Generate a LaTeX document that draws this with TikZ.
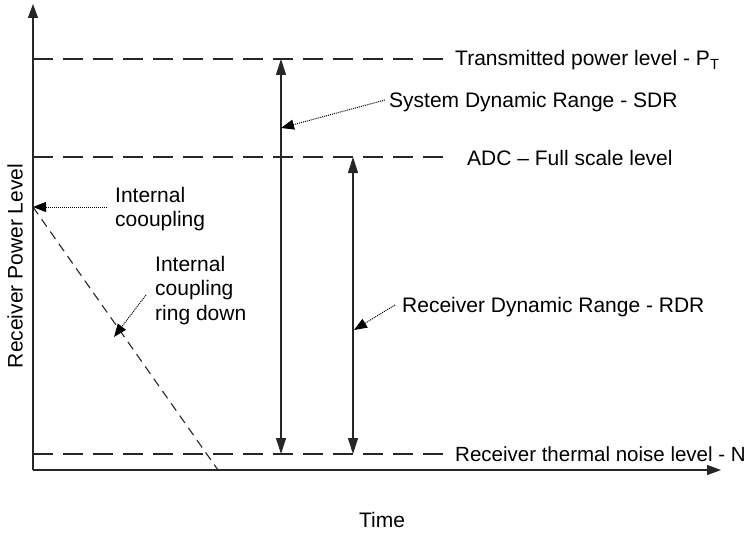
\documentclass[tikz,border=0pt]{standalone}
\usepackage{fontspec}
\setmainfont{Liberation Sans}
\usetikzlibrary{arrows.meta}
\begin{document}
\begin{tikzpicture}[x=1pt,y=-1pt,
  lbl/.style={font=\fontsize{21}{24.5}\selectfont, inner sep=0pt, text=black},
  axisline/.style={line width=1.3pt, draw=black!85, -{Triangle[length=14pt,width=10pt]}},
  levelline/.style={line width=1.1pt, draw=black!85, dash pattern=on 20pt off 10pt},
  rangearrow/.style={line width=1.1pt, draw=black!85, {Triangle[length=16pt,width=10pt]}-{Triangle[length=16pt,width=10pt]}},
  pointer/.style={line width=1pt, densely dotted, -{Triangle[length=13pt,width=10pt]}},
  ringline/.style={line width=1.1pt, draw=black!85, dash pattern=on 9pt off 6pt}]
\useasboundingbox (0,0) rectangle (751,532);

% axes
\coordinate (O) at (33,470);
\coordinate (ytop) at (33,4);
\coordinate (xend) at (721,470);
\draw[axisline] (O) -- (ytop);
\draw[axisline] (O) -- (xend);
\node[lbl, rotate=90] (ylab) at (15,266) {Receiver Power Level};
\node[lbl, anchor=base] (xlab) at (382,527) {Time};

% reference levels
\coordinate (pt0) at (33,59);
\coordinate (pt1) at (445,59);
\coordinate (adc0) at (33,157);
\coordinate (adc1) at (445,157);
\coordinate (n0) at (33,454);
\coordinate (n1) at (445,454);
\draw[levelline] (pt0) -- (pt1);
\draw[levelline] (adc0) -- (adc1);
\draw[levelline] (n0) -- (n1);
\node[lbl, anchor=base west] (ptlab) at (455,66) {Transmitted power level - P\textsubscript{T}};
\node[lbl, anchor=base west] (adclab) at (467,165) {ADC -- Full scale level};
\node[lbl, anchor=base west, font=\fontsize{20.5}{24.5}\selectfont] (nlab) at (455,461) {Receiver thermal noise level - N};

% dynamic ranges
\coordinate (sdrtop) at (281,59);
\coordinate (sdrbot) at (281,454);
\coordinate (rdrtop) at (353,157);
\coordinate (rdrbot) at (353,454);
\draw[rangearrow] (sdrtop) -- (sdrbot);
\draw[rangearrow] (rdrtop) -- (rdrbot);
\node[lbl, anchor=base west] (sdrlab) at (389,107) {System Dynamic Range - SDR};
\node[lbl, anchor=base west] (rdrlab) at (402,312) {Receiver Dynamic Range - RDR};
\coordinate (sdrs) at (385,100);
\coordinate (sdrpt) at (281,128);
\coordinate (rdrs) at (395,305);
\coordinate (rdrpt) at (354,330);
\draw[pointer] (sdrs) -- (sdrpt);
\draw[pointer] (rdrs) -- (rdrpt);

% internal coupling
\coordinate (ic) at (33,207);
\coordinate (icend) at (218,470);
\draw[ringline] (ic) -- (icend);
\node[lbl, anchor=north west, align=left] (iclab) at (115,187) {Internal\\cooupling};
\coordinate (ics) at (107,207);
\draw[pointer] (ics) -- (ic);
\node[lbl, anchor=north west, align=left] (rdlab) at (155,256) {Internal\\coupling\\ring down};
\coordinate (rds) at (146,295);
\coordinate (rdpt) at (114,337);
\draw[pointer] (rds) -- (rdpt);
\end{tikzpicture}
\end{document}
